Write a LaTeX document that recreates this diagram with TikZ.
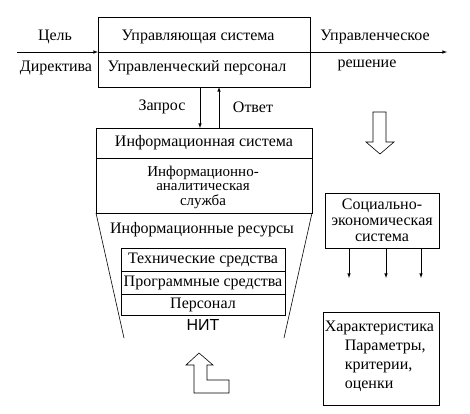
\documentclass[tikz,border=0pt]{standalone}
\usepackage{fontspec}
\setmainfont{Liberation Serif}
\setsansfont{Liberation Sans}
\usepackage{tikz}
\usetikzlibrary{arrows,positioning,calc}
\tikzset{block/.style={draw,rectangle,inner sep=0pt,outer sep=0pt,align=center}}
\tikzset{lbl/.style={inner sep=0pt,align=center}}
\tikzset{hollow/.style={draw,fill=white,line width=0.6pt}}

\begin{document}
\begin{tikzpicture}[x=1pt,y=-1pt,>=latex,line width=0.6pt,font=\rmfamily\fontsize{16}{17}\selectfont]
            \useasboundingbox (0,0) rectangle (470,413);
            % control system
            \node[block,minimum width=212pt,minimum height=70pt] (upr) at (204,52) {};
            \coordinate (goal) at (17,52);
            \coordinate (dec) at (447,52);
            \draw[->] (goal) -- (upr.west);
            \draw (upr.west) -- (upr.east);
            \draw[->] (upr.east) -- (dec);
            \node[lbl] (uprtitle) at (198,37) {Управляющая система};
            \node[lbl] (uprpers) at (197,68) {Управленческий персонал};
            \node[lbl] (goaltxt) at (55,37) {Цель};
            \node[lbl] (directive) at (56,68) {Директива};
            \node[lbl] (dectxt1) at (375,37) {Управленческое};
            \node[lbl] (dectxt2) at (367,65) {решение};
            % information system
            \node[block,minimum width=216pt,minimum height=85pt] (info) at (204,170.5) {};
            \draw (info.west |- 0,158) coordinate (infol) -- (info.east |- 0,158) coordinate (infor);
            \node[lbl] (infotitle) at (204,143) {Информационная система};
            \node[lbl,font=\rmfamily\fontsize{15}{14.5}\selectfont] (service) at (203,187) {Информационно-\\аналитическая\\служба};
            \draw[->] ([xshift=-4pt]upr.south) -- ([xshift=-4pt]upr.south |- info.north);
            \draw[->] ([xshift=15pt]upr.south |- info.north) -- ([xshift=15pt]upr.south);
            \node[lbl] (request) at (162,107) {Запрос};
            \node[lbl] (answer) at (253,107) {Ответ};
            % resources
            \coordinate (trl) at (124,338);
            \coordinate (trr) at (284,338);
            \draw (info.south west) -- (trl);
            \draw (info.south east) -- (trr);
            \node[lbl] (resources) at (202,230) {Информационные ресурсы};
            \node[block,minimum width=164pt,minimum height=23pt] (tech) at (203,259.5) {Технические средства};
            \node[block,minimum width=164pt,minimum height=23pt,below=0pt of tech] (prog) {Программные средства};
            \node[block,minimum width=164pt,minimum height=21pt,below=0pt of prog] (pers) {Персонал};
            \node[lbl,font=\sffamily\fontsize{16}{17}\selectfont] (nit) at (203,325) {НИТ};
            % hollow arrows
            \draw[hollow] (373,112) -- (386,112) -- (386,142) -- (394,142) -- (380,154)
                -- (366,142) -- (373,142) -- cycle;
            \draw[hollow] (199,353) -- (213,365) -- (207,365) -- (207,380) -- (229,380)
                -- (229,393) -- (194,393) -- (194,365) -- (186,365) -- cycle;
            % socio-economic system
            \node[block,minimum width=114pt,minimum height=55pt,font=\rmfamily\fontsize{16}{16}\selectfont] (socio) at (382,220.5) {Социально-\\экономическая\\система};
            \foreach \dx/\nm in {-33/a,4/b,39/c} {
                \coordinate (out\nm) at ([xshift=\dx pt]socio.south |- 0,278);
                \draw[->] ([xshift=\dx pt]socio.south) -- (out\nm);
            }
            \node[block,minimum width=116pt,minimum height=93pt] (char) at (381,358.5) {};
            \node[lbl,align=left,font=\rmfamily\fontsize{16}{19}\selectfont,anchor=north west] (chartxt) at (324.5,321)
                {Характеристика\\\hspace*{20pt}Параметры,\\\hspace*{20pt}критерии,\\\hspace*{20pt}оценки};
\end{tikzpicture}
\end{document}
